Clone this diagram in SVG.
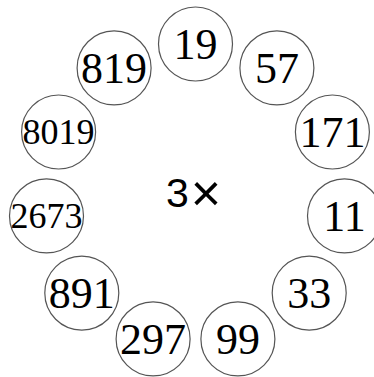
<svg xmlns="http://www.w3.org/2000/svg" width="374" height="377" viewBox="0 0 374 377">
  <style>
    .ring { fill: #ffffff; stroke: #555555; stroke-width: 1.2; }
    .num { font-family: "Liberation Serif", "Times New Roman", serif; font-size: 44px; fill: #000; text-anchor: middle; }
    .num.long { font-size: 36px; }
    .mul { font-family: "Liberation Sans", Arial, sans-serif; font-size: 41px; fill: #000; }
    .times { font-size: 52px; }
  </style>
  <defs>
    <circle id="disc" r="37" class="ring"/>
  </defs>

  <!-- eleven residues placed evenly on a ring around the multiplier -->
  <g id="n19" transform="translate(195.5,44)"><use href="#disc"/><text class="num" y="15">19</text></g>
  <g id="n57" transform="translate(276.9,67.9)"><use href="#disc"/><text class="num" y="15">57</text></g>
  <g id="n171" transform="translate(332.4,132)"><use href="#disc"/><text class="num" y="15">171</text></g>
  <g id="n11" transform="translate(344.5,215.9)"><use href="#disc"/><text class="num" y="15">11</text></g>
  <g id="n33" transform="translate(309.2,293.1)"><use href="#disc"/><text class="num" y="15">33</text></g>
  <g id="n99" transform="translate(237.9,338.9)"><use href="#disc"/><text class="num" y="15">99</text></g>
  <g id="n297" transform="translate(153.1,338.9)"><use href="#disc"/><text class="num" y="15">297</text></g>
  <g id="n891" transform="translate(81.8,293.1)"><use href="#disc"/><text class="num" y="15">891</text></g>
  <g id="n2673" transform="translate(46.5,215.9)"><use href="#disc"/><text class="num long" y="12">2673</text></g>
  <g id="n8019" transform="translate(58.6,132)"><use href="#disc"/><text class="num long" y="12">8019</text></g>
  <g id="n819" transform="translate(114.1,67.9)"><use href="#disc"/><text class="num" y="15">819</text></g>

  <g id="connectors"></g>

  <g id="center"><text class="mul" x="166" y="207">3<tspan class="times" dx="2" dy="4">×</tspan></text></g>
</svg>
